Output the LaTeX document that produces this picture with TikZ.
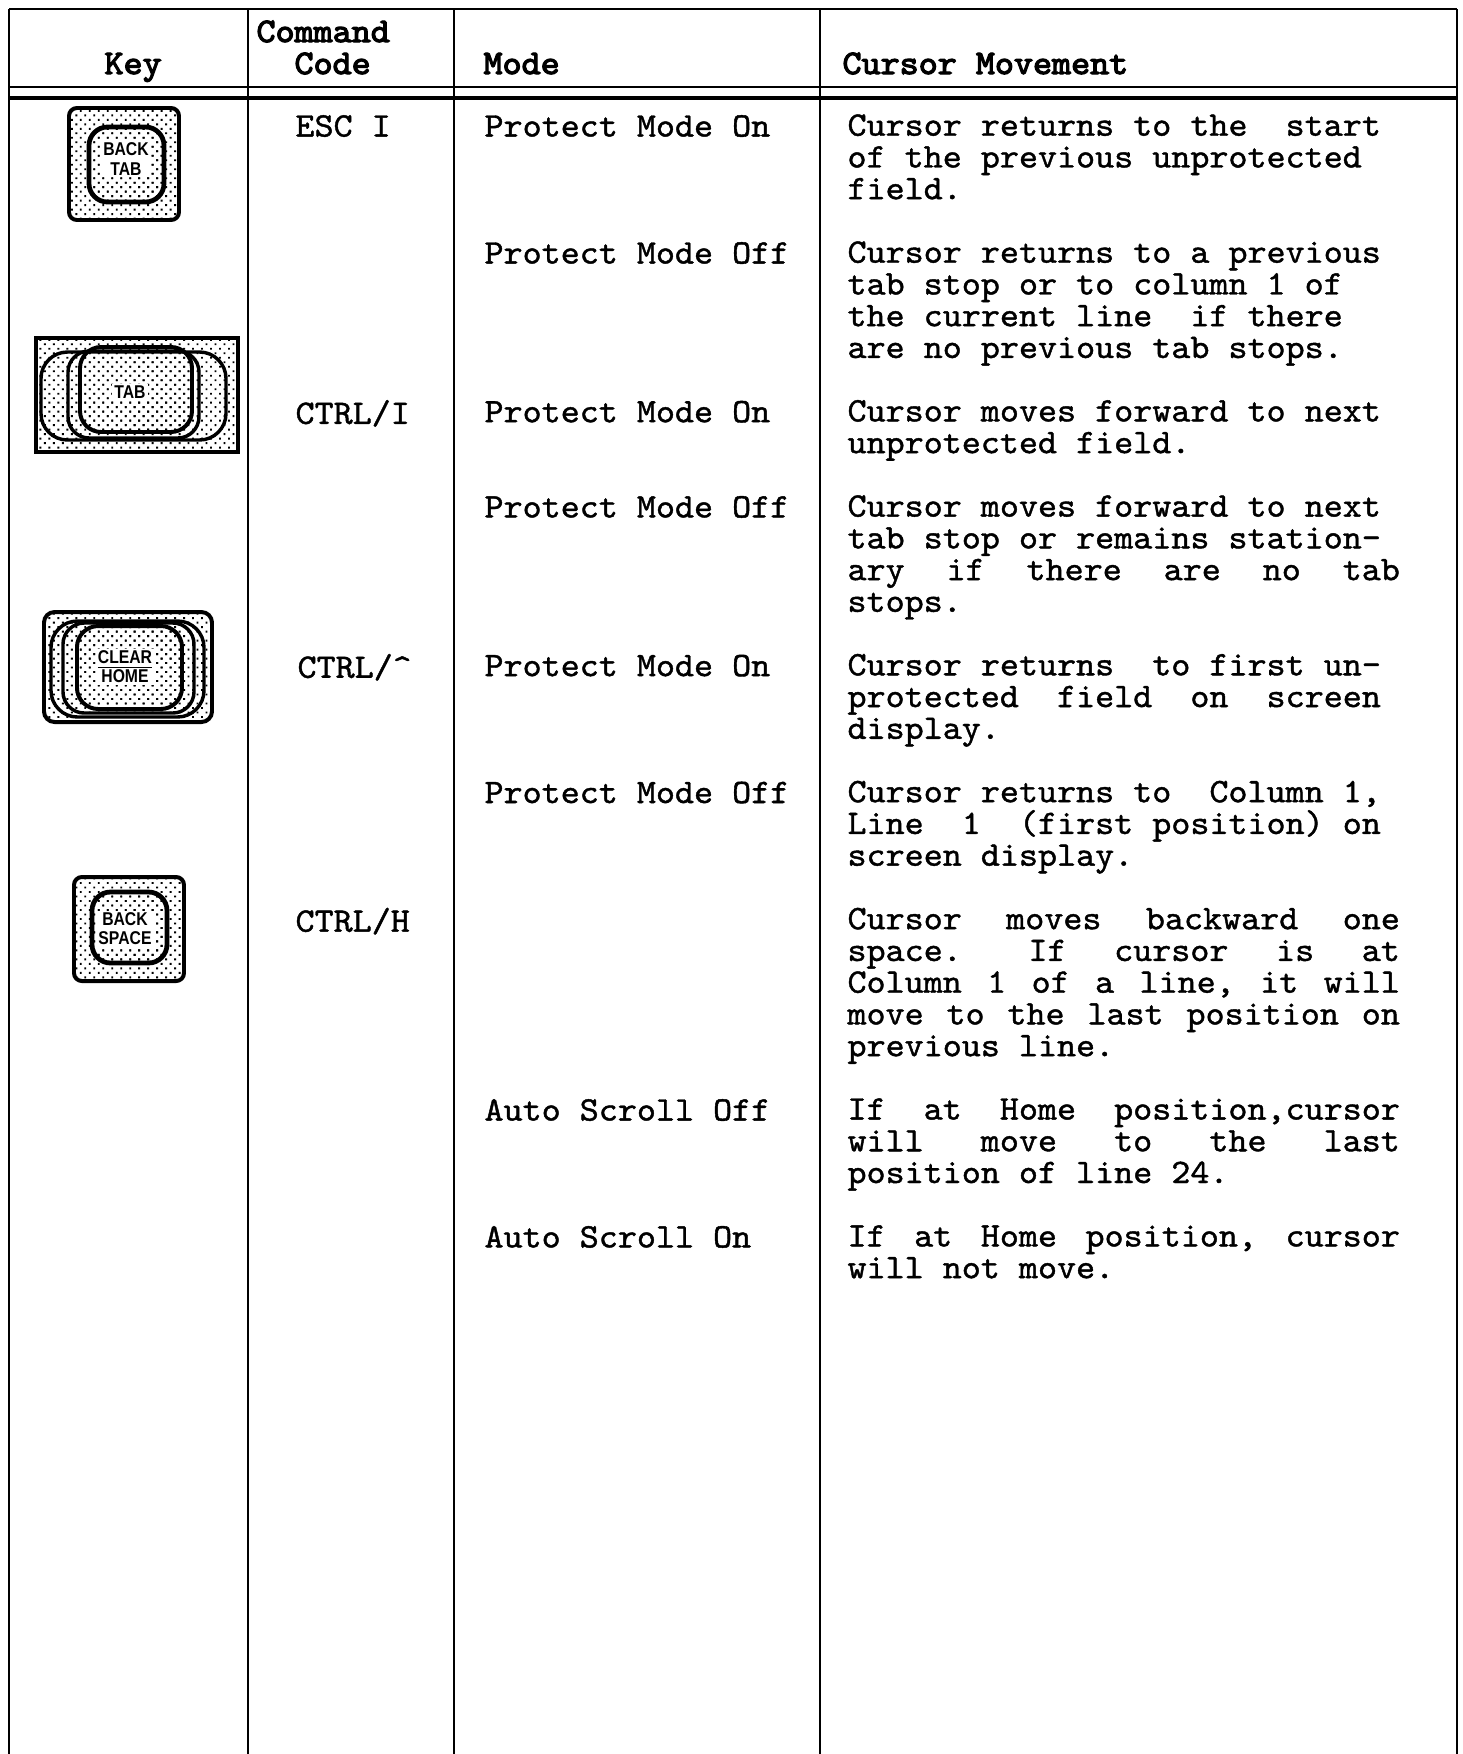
\documentclass[tikz,border=0pt]{standalone}
\usepackage{fontspec}
\usepackage{tikz}
\usetikzlibrary{patterns.meta}
\newfontfamily\tw{lmmono10-regular.otf}[FakeBold=1.2, FakeStretch=1.055]
\newfontfamily\twbold{lmmono10-regular.otf}[FakeBold=3.5, FakeStretch=1.055]
\newfontfamily\keyfont[FakeStretch=0.85]{Liberation Sans}
\newlength{\jw}
\setlength{\jw}{208.8pt}
% justified typewriter line
\newcommand{\jl}[1]{\makebox[\jw][l]{#1}}

\tikzset{
	rule/.style={line width=1.1pt},
	cell/.style={anchor=north west, inner sep=0pt, yshift=8.4pt, align=left,
		font=\tw\fontsize{13}{12}\selectfont, execute at begin node=\strut},
	head/.style={anchor=base west, inner sep=0pt,
		font=\twbold\fontsize{13}{12}\selectfont},
	shell/.style={draw, line width=1.5pt, pattern={Dots[distance=2.4pt, radius=0.5pt, angle=45]}},
	rim/.style={draw, line width=1.3pt},
	keylabel/.style={fill=white, inner sep=0.8pt, align=center,
		font=\keyfont\bfseries\fontsize{7}{7.2}\selectfont},
}

\begin{document}
\begin{tikzpicture}[x=0.378pt, y=-0.378pt]
	\useasboundingbox (0,0) rectangle (1463,1754);

	% table rules
	\draw[rule] (9,9) -- (1457,9);
	\foreach \x in {9,248,454,820,1457}{
		\draw[rule] (\x,9) -- (\x,1754);
	}
	\draw[line width=0.8pt] (9,87) -- (1457,87);
	\draw[line width=1.6pt] (9,98) -- (1457,98);

	% header
	\node[head] (hkey) at (104,74) {Key};
	\node[head] (hcmd) at (256,42) {Command};
	\node[head] (hcode) at (294,74) {Code};
	\node[head] (hmode) at (483,74) {Mode};
	\node[head] (hmove) at (842,74) {Cursor Movement};

	% key caps
	\draw[shell, rounded corners=3pt] (69,108) rectangle (179,220);
	\draw[shell, line width=1.8pt, rounded corners=7pt] (89,127) rectangle (164,202);
	\node[keylabel] (backtab) at (126,159) {BACK\\TAB};

	\draw[shell] (36,338) rectangle (238,452);
	\draw[rim, rounded corners=10pt] (41,352) rectangle (226,440);
	\draw[rim, rounded corners=8pt] (68,351) rectangle (199,438);
	\draw[shell, rounded corners=8pt] (80,347) rectangle (192,432);
	\node[keylabel] (tab) at (130,392) {TAB};

	\draw[shell, rounded corners=4pt] (44,612) rectangle (212,722);
	\draw[rim, rounded corners=10pt] (51,621) rectangle (204,717);
	\draw[rim, rounded corners=8pt] (63,623) rectangle (194,713);
	\draw[shell, rounded corners=8pt] (77,626) rectangle (182,709);
	\node[keylabel] (clearhome) at (125,667) {\underline{CLEAR}\\HOME};

	\draw[shell, rounded corners=3pt] (74,877) rectangle (184,981);
	\draw[shell, line width=1.8pt, rounded corners=7pt] (92,892) rectangle (167,963);
	\node[keylabel] (backspace) at (125,929) {BACK\\SPACE};

	% command codes
	\node[cell] (esci) at (295,136) {ESC I};
	\node[cell] (ctrli) at (295,421.7) {CTRL/I};
	\node[cell] (ctrlhat) at (297,675.6) {CTRL/\^{}};
	\node[cell] (ctrlh) at (295,929.5) {CTRL/H};

	% modes
	\node[cell] (mode1) at (484,136) {Protect Mode On};
	\node[cell] (mode2) at (484,263) {Protect Mode Off};
	\node[cell] (mode3) at (484,421.7) {Protect Mode On};
	\node[cell] (mode4) at (484,516.9) {Protect Mode Off};
	\node[cell] (mode5) at (484,675.6) {Protect Mode On};
	\node[cell] (mode6) at (484,802.5) {Protect Mode Off};
	\node[cell] (mode7) at (484,1120) {Auto Scroll Off};
	\node[cell] (mode8) at (484,1246.9) {Auto Scroll On};

	% cursor movement
	\node[cell] (move1) at (847,136) {Cursor returns to the~~start\\
		of the previous unprotected\\field.};
	\node[cell] (move2) at (847,263) {Cursor returns to a previous\\
		tab stop or to column 1 of\\the current line~~if there\\
		are no previous tab stops.};
	\node[cell] (move3) at (847,421.7) {Cursor moves forward to next\\
		unprotected field.};
	\node[cell] (move4) at (847,516.9) {Cursor moves forward to next\\
		tab stop or remains station-\\
		\jl{ary\hfill if\hfill there\hfill are\hfill no\hfill tab}\\stops.};
	\node[cell] (move5) at (847,675.6) {Cursor returns~~to first un-\\
		protected~~field~~on~~screen\\display.};
	\node[cell] (move6) at (847,802.5) {Cursor returns to~~Column 1,\\
		Line~~1~~(first position) on\\screen display.};
	\node[cell] (move7) at (847,929.5) {\jl{Cursor\hfill moves\hfill backward\hfill one}\\
		\jl{space.~\hfill If\hfill cursor\hfill is\hfill at}\\
		\jl{Column\hfill 1\hfill of\hfill a\hfill line,\hfill it\hfill will}\\
		\jl{move\hfill to\hfill the\hfill last\hfill position\hfill on}\\previous line.};
	\node[cell] (move8) at (847,1120) {\jl{If\hfill at\hfill Home\hfill position,cursor}\\
		\jl{will\hfill move\hfill to\hfill the\hfill last}\\position of line 24.};
	\node[cell] (move9) at (847,1246.9) {\jl{If\hfill at\hfill Home\hfill position,\hfill cursor}\\
		will not move.};
\end{tikzpicture}
\end{document}
